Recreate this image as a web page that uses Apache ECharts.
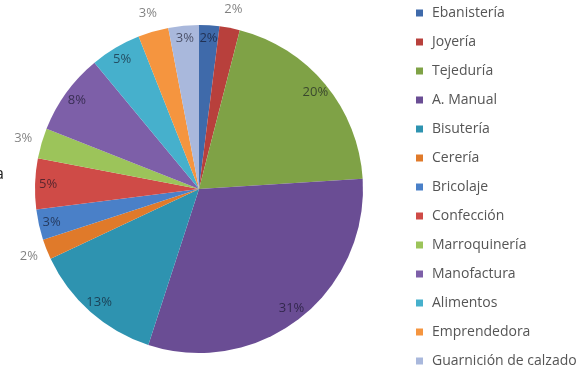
<!DOCTYPE html>
<html>
<head>
<meta charset="utf-8">
<script src="https://cdn.jsdelivr.net/npm/echarts@6/dist/echarts.min.js"></script>
<style>
  html, body { margin: 0; padding: 0; background: #fff; }
  #chart { width: 584px; height: 373px; }
</style>
</head>
<body>
<div id="chart"></div>
<script>
// Workshop categories and their share (%)
const categories = ['Ebanistería', 'Joyería', 'Tejeduría', 'A. Manual', 'Bisutería', 'Cerería',
  'Bricolaje', 'Confección', 'Marroquinería', 'Manofactura', 'Alimentos', 'Emprendedora',
  'Guarnición de calzado'];
const shares = [2, 2, 20, 31, 13, 2, 3, 5, 3, 8, 5, 3, 3];
const sliceColors = ['#3f6aaa', '#b8403c', '#7fa246', '#6a4d94', '#2e93b0', '#e07a2a',
  '#4a80c8', '#cf4b47', '#9cc45a', '#7d5fa8', '#46b0cc', '#f5953f', '#a9b8dc'];
// Small slices whose percentage sits just outside the pie
const outsideLabelled = ['Joyería', 'Cerería', 'Marroquinería', 'Emprendedora'];

const font = 'Open Sans';
const center = [199, 189];
const R = 164;

const pieData = categories.map((name, i) => ({
  name, value: shares[i], itemStyle: { color: sliceColors[i] }
}));

function labelData(outside) {
  return categories.map((name, i) => ({
    name, value: shares[i],
    label: { show: outsideLabelled.includes(name) === outside }
  }));
}

const pctLabel = {
  position: 'inside',
  fontFamily: font,
  fontSize: 13,
  color: 'rgba(15,15,30,0.62)',
  formatter: p => Math.round(p.percent) + '%'
};

const chart = echarts.init(document.getElementById('chart'), null, { renderer: 'canvas' });
chart.setOption({
  animation: false,
  legend: {
    orient: 'vertical',
    left: 416,
    top: 6,
    height: 400,
    padding: 0,
    itemWidth: 7,
    itemHeight: 7,
    itemGap: 15,
    icon: 'rect',
    selectedMode: false,
    data: categories,
    textStyle: {
      fontFamily: font,
      fontSize: 14,
      lineHeight: 14,
      color: '#555',
      padding: [0, 0, 0, 4]
    }
  },
  graphic: [{
    type: 'text',
    left: -5,
    top: 166,
    style: { text: 'a', fontFamily: font, fontSize: 16, fill: '#222' }
  }],
  series: [
    {
      type: 'pie',
      center, radius: [0, R],
      startAngle: 90,
      clockwise: true,
      silent: true,
      label: { show: false },
      labelLine: { show: false },
      emphasis: { disabled: true },
      data: pieData
    },
    {
      // percentages inside the slices
      type: 'pie',
      center, radius: [R - 32, R],
      startAngle: 90,
      silent: true,
      itemStyle: { color: 'rgba(0,0,0,0)' },
      label: pctLabel,
      labelLine: { show: false },
      emphasis: { disabled: true },
      data: labelData(false)
    },
    {
      // percentages just outside the rim
      type: 'pie',
      center, radius: [R, R + 32],
      startAngle: 90,
      silent: true,
      itemStyle: { color: 'rgba(0,0,0,0)' },
      label: Object.assign({}, pctLabel, { color: 'rgba(0,0,0,0.5)' }),
      labelLine: { show: false },
      emphasis: { disabled: true },
      data: labelData(true)
    }
  ]
});
</script>
</body>
</html>
